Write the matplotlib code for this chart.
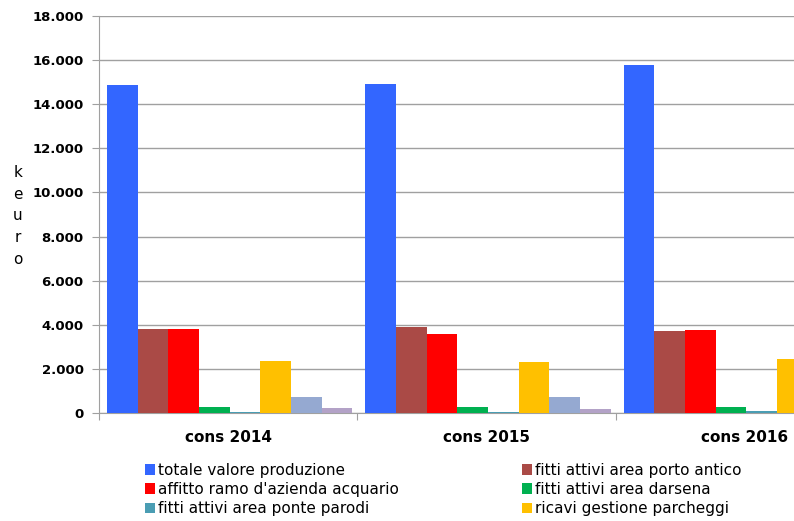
import numpy as np
import matplotlib.pyplot as plt

# categories and series (keuro)
years = ['cons 2014', 'cons 2015', 'cons 2016']
series_names = ['totale valore produzione',
                'fitti attivi area porto antico',
                "affitto ramo d'azienda acquario",
                'fitti attivi area darsena',
                'fitti attivi area ponte parodi',
                'ricavi gestione parcheggi',
                'altri ricavi',
                'altri proventi']
totale = [14850, 14930, 15780]
porto_antico = [3800, 3890, 3710]
acquario = [3800, 3580, 3760]
darsena = [270, 270, 270]
ponte_parodi = [40, 40, 80]
parcheggi = [2340, 2300, 2430]
altri_ricavi = [740, 740, 740]
altri_proventi = [230, 190, 200]
series = [totale, porto_antico, acquario, darsena, ponte_parodi,
          parcheggi, altri_ricavi, altri_proventi]
colors = ['#3366FF', '#AA4A46', '#FF0000', '#00B050', '#4A9DB3',
          '#FFC000', '#95A9D1', '#B3A2C7']
yticks = np.arange(0, 18001, 2000)

fig = plt.figure(figsize=(7.94, 5.21), dpi=100)
# axes runs past the right edge: the third group is cut off like the original
ax = fig.add_axes([99 / 794, 108 / 521, 775 / 794, 397 / 521])

x = np.arange(len(years))
w = 0.1187
first = -0.5 + 8 / 258 + w / 2
handles = []
for i, (vals, c) in enumerate(zip(series, colors)):
    h = ax.bar(x + first + i * w, vals, w, color=c, label=series_names[i], zorder=3)
    handles.append(h)

ax.set_xlim(-0.5, 2.5)
ax.set_ylim(0, 18000)
ax.set_yticks(yticks)
ax.set_yticklabels([f'{v:,}'.replace(',', '.') for v in yticks],
                   fontsize=9.5, fontweight='bold')
ax.yaxis.grid(True, color='#A0A0A0', lw=1, zorder=0)
ax.tick_params(axis='y', length=5, color='#A0A0A0', pad=6)

ax.set_xticks([-0.5, 0.5, 1.5, 2.5])
ax.set_xticklabels([])
ax.tick_params(axis='x', which='major', length=5, color='#A0A0A0')
ax.set_xticks(x, minor=True)
ax.set_xticklabels(years, minor=True, fontsize=11, fontweight='bold')
ax.tick_params(axis='x', which='minor', length=0, pad=12)

for s in ['top', 'right']:
    ax.spines[s].set_visible(False)
for s in ['left', 'bottom']:
    ax.spines[s].set_color('#A0A0A0')

fig.text(18 / 794, 1 - 216 / 521, 'k\ne\nu\nr\no', ha='center', va='center',
         fontsize=11, linespacing=1.55)

# legend: two columns (the last row of the original is cut off, so not shown)
leg_kw = dict(frameon=False, borderpad=0, handlelength=0.7, handleheight=0.7,
              handletextpad=0.15, labelspacing=0.28, fontsize=11)
col1 = [handles[i] for i in (0, 2, 4)]
col2 = [handles[i] for i in (1, 3, 5)]
l1 = fig.legend(col1, [series_names[i] for i in (0, 2, 4)],
                loc='upper left', bbox_to_anchor=(137 / 794, 1 - 455 / 521), **leg_kw)
l2 = fig.legend(col2, [series_names[i] for i in (1, 3, 5)],
                loc='upper left', bbox_to_anchor=(514 / 794, 1 - 455 / 521), **leg_kw)

fig.savefig('out.png', dpi=100)
